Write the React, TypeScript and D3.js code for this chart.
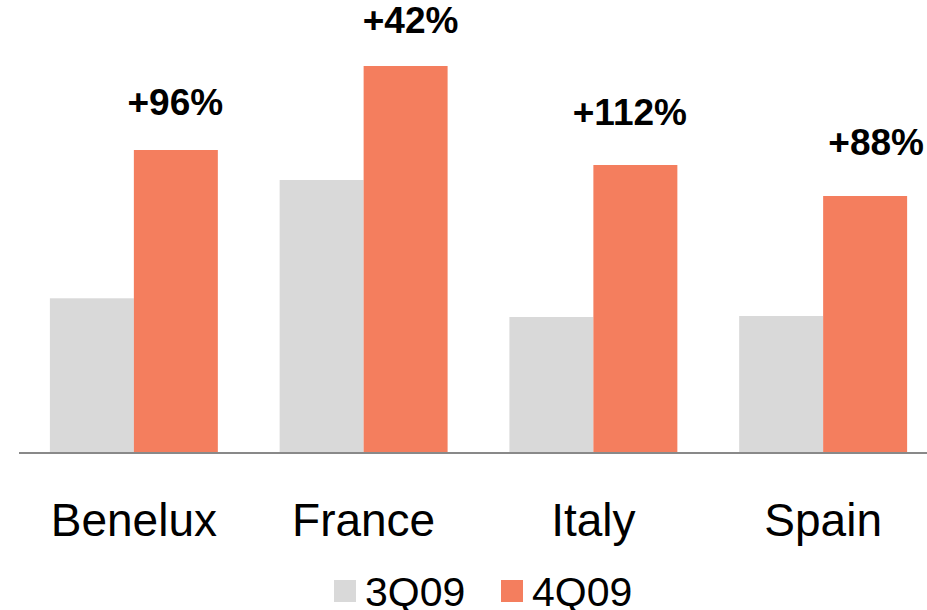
import React from "react";
import * as d3 from "d3";

const categories = ["Benelux", "France", "Italy", "Spain"];
const seriesNames = ["3Q09", "4Q09"];
const values3Q09 = [154.7, 273, 136, 137];
const values4Q09 = [303, 387, 288, 257];
const growthLabels = ["+96%", "+42%", "+112%", "+88%"];

const colors = ["#D9D9D9", "#F47E5E"];
// manual label placement relative to the 4Q09 bar (dx from bar center, dy above bar top)
const labelOffsets = [
  { dx: -0.5, dy: 35 },
  { dx: 5, dy: 33 },
  { dx: -5.5, dy: 40 },
  { dx: 11, dy: 41 },
];

const W = 927;
const H = 610;
const FONT = "Liberation Sans, Arial, Helvetica, sans-serif";

export default function App() {
  const x = d3
    .scaleBand<string>()
    .domain(categories)
    .range([19, 938])
    .paddingInner(0.269)
    .paddingOuter(0.1344);
  const x1 = d3
    .scaleBand<string>()
    .domain(seriesNames)
    .range([0, x.bandwidth()]);
  const y = d3.scaleLinear().domain([0, 400]).range([453, 53]);
  const series = [values3Q09, values4Q09];

  return (
    <div style={{ position: "absolute", left: 0, top: 0 }}>
      <svg width={W} height={H} style={{ display: "block", background: "#fff" }}>
        {categories.map((c, i) => (
          <g key={c} transform={`translate(${x(c)},0)`}>
            {seriesNames.map((s, j) => (
              <rect
                key={s}
                x={x1(s)}
                y={y(series[j][i])}
                width={x1.bandwidth()}
                height={y(0) - y(series[j][i])}
                fill={colors[j]}
              />
            ))}
          </g>
        ))}
        <line x1={19} x2={927} y1={y(0)} y2={y(0)} stroke="#898989" strokeWidth={2} />
        {categories.map((c, i) => {
          const cx = (x(c) as number) + (x1("4Q09") as number) + x1.bandwidth() / 2;
          return (
            <text
              key={c + "-lbl"}
              x={cx + labelOffsets[i].dx}
              y={y(values4Q09[i]) - labelOffsets[i].dy}
              textAnchor="middle"
              fontFamily={FONT}
              fontWeight="bold"
              fontSize={37}
              fill="#000"
            >
              {growthLabels[i]}
            </text>
          );
        })}
        {categories.map((c) => (
          <text
            key={c + "-cat"}
            x={(x(c) as number) + x.bandwidth() / 2}
            y={536}
            textAnchor="middle"
            fontFamily={FONT}
            fontSize={46}
            fill="#000"
          >
            {c}
          </text>
        ))}
        {seriesNames.map((s, j) => {
          const lx = [334, 501][j];
          return (
            <g key={s + "-leg"}>
              <rect x={lx} y={580} width={22} height={22} fill={colors[j]} />
              <text x={lx + 31} y={606} fontFamily={FONT} fontSize={41} fill="#000">
                {s}
              </text>
            </g>
          );
        })}
      </svg>
    </div>
  );
}
